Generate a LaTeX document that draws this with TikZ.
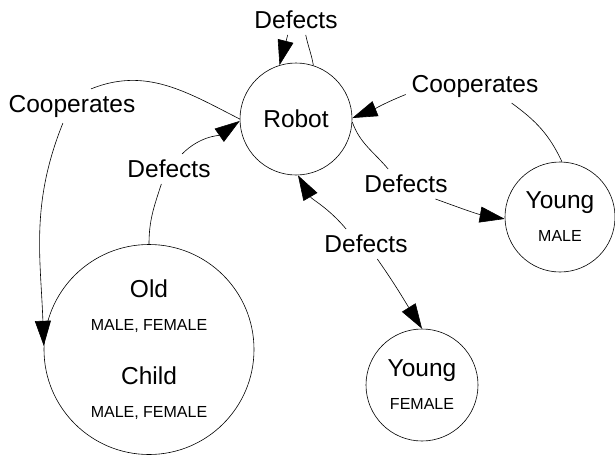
\documentclass[tikz,border=0pt]{standalone}
\usepackage{fontspec}
\setmainfont{Liberation Sans}
\usetikzlibrary{arrows.meta}
\newcommand{\bigtxt}{\fontsize{24.5}{29}\selectfont}
\newcommand{\smalltxt}{\fontsize{16}{19}\selectfont}
\tikzset{
  ring/.style={draw, circle, inner sep=0pt, align=center, font=\bigtxt, line width=0.6pt},
  tag/.style={inner sep=0pt, outer sep=6pt, font=\bigtxt},
  link/.style={line width=0.6pt},
  tip/.style={link, -{Triangle[length=25pt,width=16pt]}},
}

\begin{document}
\begin{tikzpicture}[x=1pt, y=1pt]
\useasboundingbox (0,0) rectangle (615,-455);
\node[ring, minimum size=112pt] (robot) at (296,-119) {Robot};
\node[ring, minimum size=110pt] (ymale) at (560,-217) {Young\\[4pt]{\smalltxt MALE}};
\node[ring, minimum size=112pt] (yfemale) at (422,-385) {Young\\[4pt]{\smalltxt FEMALE}};
\node[ring, minimum size=210pt] (oldchild) at (149,-349.5)
  {Old\\[4pt]{\smalltxt MALE, FEMALE}\\[25pt]Child\\[4pt]{\smalltxt MALE, FEMALE}};
\node[tag] (dtop) at (296,-20) {Defects};
\node[tag] (cleft) at (72,-106) {Cooperates};
\node[tag] (dleft) at (169,-169) {Defects};
\node[tag] (cright) at (475,-86) {Cooperates};
\node[tag] (dright) at (406,-184) {Defects};
\node[tag] (dlow) at (366,-244) {Defects};
\draw[link] (robot.72) to[out=100, in=-78] (dtop.-57);
\draw[tip] (dtop.-119) to[out=-104, in=76] (robot.107);
\draw[link] (robot.180) to[out=153, in=22] (cleft.42);
\draw[tip] (cleft.-118) to[out=-112, in=92] (oldchild.178);
\draw[link] (oldchild.90) to[out=90, in=-108] (dleft.-117);
\draw[tip] (dleft.49) to[out=45, in=-145] (robot.182);
\draw[link] (ymale.88) to[out=115, in=-36] (cright.-25);
\draw[tip] (cright.187) to[out=-158, in=22] (robot.1);
\draw[link] (robot.-3) to[out=-70, in=130] (dright.140);
\draw[tip] (dright.-27) to[out=-20, in=170] (ymale.182);
\draw[tip] (dlow.143) to[out=130, in=-60] (robot.-88);
\draw[tip] (dlow.-53) to[out=-55, in=122] (yfemale.90);
\end{tikzpicture}
\end{document}
